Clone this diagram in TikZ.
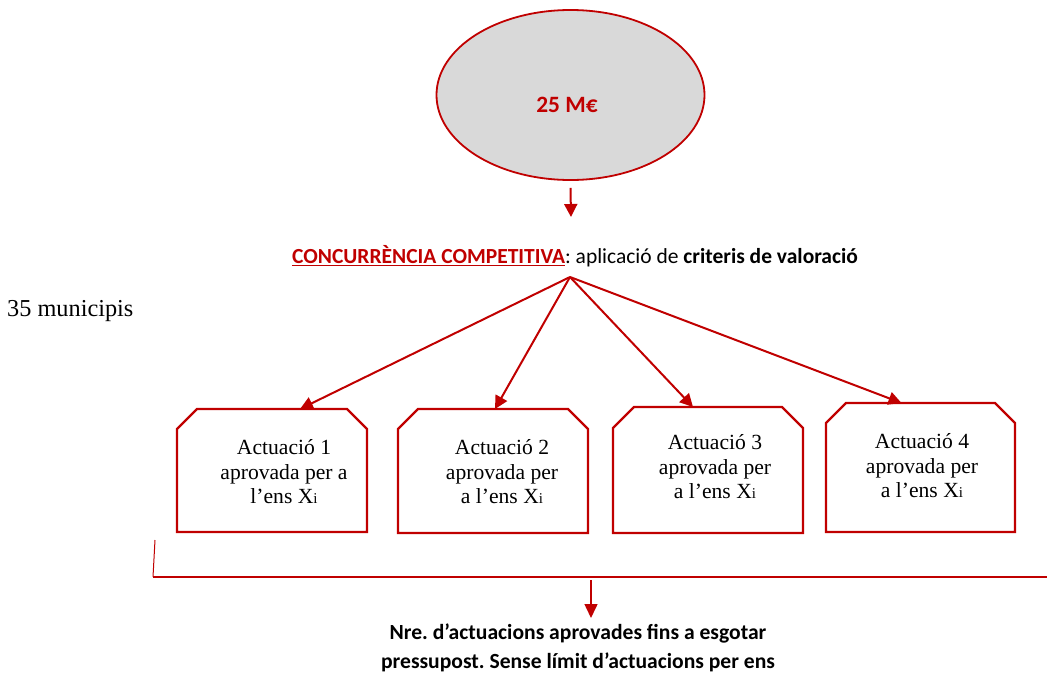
\documentclass[tikz,border=0pt]{standalone}
\usepackage{fontspec}
\setmainfont{Liberation Serif}
\newfontfamily\calfont{Carlito}
\usetikzlibrary{arrows.meta,shapes.geometric,calc}
\definecolor{darkred}{HTML}{C00000}
\definecolor{ovalgray}{HTML}{D9D9D9}
\frenchspacing

\tikzset{
  arr/.style={draw=darkred, line width=2pt,
    -{Triangle[width=13pt,length=13pt]}},
  thinarr/.style={draw=darkred, line width=1.5pt,
    -{Triangle[width=13pt,length=14pt]}},
  framebox/.style={rectangle, inner sep=0pt, outer sep=0pt},
  boxtext/.style={inner sep=0pt, align=center,
    font=\fontsize{21.6}{24.5}\selectfont},
  headfont/.style={font=\calfont\fontsize{21.5}{25}\selectfont},
  notefont/.style={font=\calfont\bfseries\fontsize{21.6}{29}\selectfont},
}
\newcommand{\chamferbox}[2]{%
  \draw[darkred, line width=2.2pt, line join=miter]
    ([yshift=-#2]#1.north west) -- ([xshift=#2]#1.north west)
    -- ([xshift=-#2]#1.north east) -- ([yshift=-#2]#1.north east)
    -- (#1.south east) -- (#1.south west) -- cycle;}

\begin{document}
\begin{tikzpicture}[x=1pt,y=-1pt]
\useasboundingbox (0,0) rectangle (1047,675);

% budget oval
\node[ellipse, draw=darkred, fill=ovalgray, line width=1.8pt,
      minimum width=268pt, minimum height=170pt, inner sep=0pt]
      (budget) at (570.5,95) {};
\node[inner sep=0pt, text=darkred, font=\calfont\bfseries\fontsize{23.4}{26}\selectfont]
      (amount) at (567,105) {25 M€};

% heading
\node[headfont, inner sep=0pt] (title) at (575,256)
  {\textcolor{darkred}{\textbf{\underline{CONCURRÈNCIA COMPETITIVA}}}: aplicació de \textbf{criteris de valoració}};
\coordinate (drop) at (571,217);
\draw[arr] (budget.south) ++(0,7) -- (drop);

\node[anchor=west, inner sep=0pt, font=\fontsize{24.3}{27}\selectfont]
  (muni) at (7,311) {35 municipis};

% action boxes
\node[framebox, minimum width=190pt, minimum height=123pt] (b1) at (272,470.5) {};
\node[framebox, minimum width=190pt, minimum height=124pt] (b2) at (493,471) {};
\node[framebox, minimum width=190pt, minimum height=126pt] (b3) at (708,470) {};
\node[framebox, minimum width=189pt, minimum height=129pt] (b4) at (920.5,467.5) {};
\chamferbox{b1}{20}
\chamferbox{b2}{20}
\chamferbox{b3}{21}
\chamferbox{b4}{20}

\node[boxtext] (t1) at (284,472) {Actuació 1\\aprovada per a\\l’ens X{\fontsize{15}{15}\selectfont i}};
\node[boxtext] (t2) at (502,472) {Actuació 2\\aprovada per\\a l’ens X{\fontsize{15}{15}\selectfont i}};
\node[boxtext] (t3) at (715,467) {Actuació 3\\aprovada per\\a l’ens X{\fontsize{15}{15}\selectfont i}};
\node[boxtext] (t4) at (922,466) {Actuació 4\\aprovada per\\a l’ens X{\fontsize{15}{15}\selectfont i}};

% fan-out arrows
\coordinate (hub) at (570,277);
\draw[arr] (hub) -- ([xshift=28pt]b1.north);
\draw[arr] (hub) -- ([xshift=2pt]b2.north);
\draw[arr] (hub) -- ([xshift=-15pt]b3.north);
\draw[arr] (hub) -- ([xshift=-19pt]b4.north);

% bracket under the boxes
\coordinate (brTop) at (155,540);
\coordinate (brCorner) at (153,577);
\coordinate (brEnd) at (1047,577);
\coordinate (brMid) at (591,580);
\draw[darkred, line width=1pt] (brTop) -- (brCorner);
\draw[darkred, line width=1.3pt] (brCorner) -- (brEnd);

% closing note
\node[notefont, align=center, inner sep=0pt] (note) at (578,648)
  {Nre. d’actuacions aprovades fins a esgotar\\pressupost. Sense límit d’actuacions per ens};
\draw[thinarr] (brMid) -- ++(0,38);
\end{tikzpicture}
\end{document}
